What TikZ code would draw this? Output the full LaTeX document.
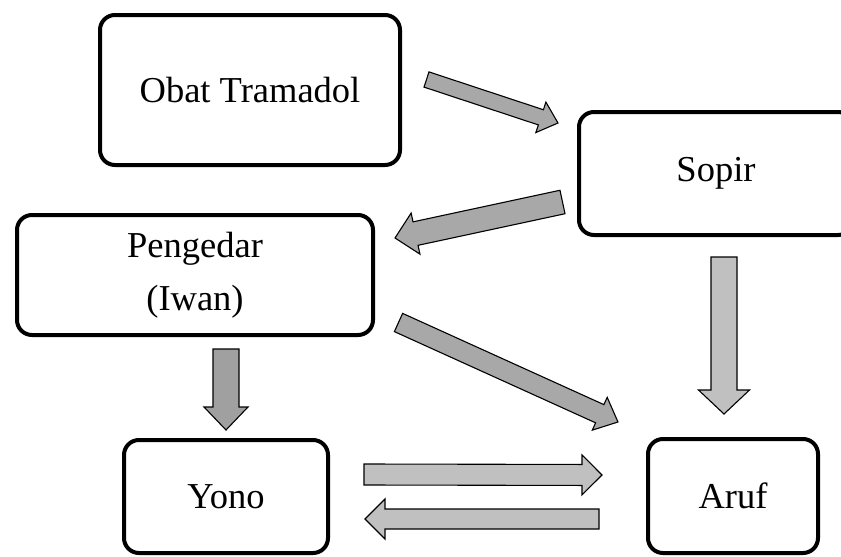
\documentclass[tikz,border=0pt]{standalone}
\usepackage{fontspec}
\setmainfont{Liberation Serif}
\usetikzlibrary{calc}
\definecolor{arrowdark}{RGB}{168,168,168}
\definecolor{arrowlight}{RGB}{192,192,192}
\tikzstyle{block} = [rectangle, draw, line width=4pt, rounded corners=15pt, fill=white, align=center, inner sep=0pt, font=\fontsize{36.5}{53}\selectfont]
\tikzstyle{flow} = [draw, line width=1.1pt, fill=arrowdark, line join=miter]
% block arrow: [style] tail, tip, shaft half width, head half width, head length
\newcommand{\flowarrow}[6][]{%
  \path[flow,#1] let \p1=($(#3)-(#2)$), \n1={atan2(\y1,\x1)}, \n2={veclen(\x1,\y1)} in
    [shift={(#2)}, rotate=\n1]
    (0pt,-#4pt) -- (\n2-#6pt,-#4pt) -- (\n2-#6pt,-#5pt) -- (\n2,0pt)
    -- (\n2-#6pt,#5pt) -- (\n2-#6pt,#4pt) -- (0pt,#4pt) -- cycle;}

\begin{document}
\begin{tikzpicture}[x=1pt, y=-1pt]
    \useasboundingbox (0,0) rectangle (841,557);

    \node [block, minimum width=300pt, minimum height=150pt] (obat) at (250,90) {Obat Tramadol};
    \node [block, minimum width=274pt, minimum height=123pt] (sopir) at (716,173.5) {Sopir};
    \node [block, minimum width=356pt, minimum height=120pt] (pengedar) at (195,275) {Pengedar\\(Iwan)};
    \node [block, minimum width=204pt, minimum height=113pt] (yono) at (226,496.5) {Yono};
    \node [block, minimum width=170pt, minimum height=114pt] (aruf) at (733,496) {Aruf};

    % tails and tips of the arrows
    \coordinate (obat-out) at (426.5,79.5);
    \coordinate (sopir-in) at (558,123);
    \coordinate (sopir-out) at (562.5,202);
    \coordinate (pengedar-in) at (395,238);
    \coordinate (pengedar-out) at (398.5,322.5);
    \coordinate (aruf-in) at (618,422);
    \coordinate (sopir-down) at (724,257);
    \coordinate (aruf-top) at (724,414);
    \coordinate (pengedar-down) at (226,349);
    \coordinate (yono-top) at (226,430);
    \coordinate (yono-right) at (364,474.5);
    \coordinate (aruf-left) at (602,475);
    \coordinate (aruf-back) at (599,519);
    \coordinate (yono-back) at (365,519);

    \flowarrow{obat-out}{sopir-in}{8}{16}{18}
    \flowarrow{sopir-out}{pengedar-in}{12}{21}{21}
    \flowarrow{pengedar-out}{aruf-in}{10}{18}{20}
    \flowarrow[fill=arrowlight]{sopir-down}{aruf-top}{13}{25.5}{24}
    \flowarrow[fill=arrowdark!95!black]{pengedar-down}{yono-top}{13}{22}{23}
    \flowarrow[fill=arrowlight]{yono-right}{aruf-left}{10.5}{20}{20}
    \flowarrow[fill=arrowlight]{aruf-back}{yono-back}{10}{20}{20}
\end{tikzpicture}
\end{document}
